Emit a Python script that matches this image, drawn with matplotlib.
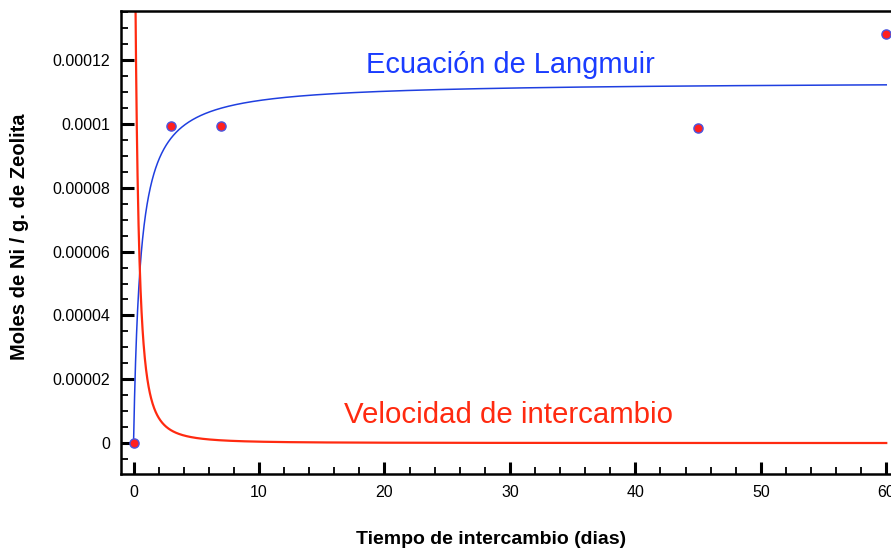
import numpy as np
import matplotlib
matplotlib.use("Agg")
import matplotlib.pyplot as plt
from matplotlib.ticker import FixedLocator, MultipleLocator

plt.rcParams['font.family'] = ['Liberation Sans', 'DejaVu Sans']

# Observed data points
dias = [0, 3, 7, 45, 60]
moles = [0.0, 0.0000993, 0.0000993, 0.0000987, 0.0001281]

# Fitted Langmuir curve parameters
q_max = 0.0001133
k_lang = 1.8
# Exchange-rate curve parameters
rate_c = 0.0002556
rate_b = 2.336

x_ticks = [0, 10, 20, 30, 40, 50, 60]
x_tick_labels = ['0', '10', '20', '30', '40', '50', '60']
y_ticks = [0, 0.00002, 0.00004, 0.00006, 0.00008, 0.0001, 0.00012]
y_tick_labels = ['0', '0.00002', '0.00004', '0.00006', '0.00008', '0.0001', '0.00012']

W, H = 891, 552
fig = plt.figure(figsize=(W / 100, H / 100), dpi=100)
left = 121 / W
bottom = 1 - 474 / H
top = 1 - 11 / H
px_per_unit = (886 - 133.3) / 60
width = 62 * px_per_unit / W
ax = fig.add_axes([left, bottom, width, top - bottom])

t = np.linspace(0, 60, 3000)
lang = q_max * k_lang * t / (1 + k_lang * t)
rate = rate_c / (1 + rate_b * t) ** 2

ax.plot(t, lang, color='#1f3fe0', lw=1.1, zorder=2)
ax.plot(t, rate, color='#ff2a10', lw=1.6, zorder=2)
ax.plot(dias, moles, 'o', ms=6.6, mfc='#ff2020', mec='#4a55e0', mew=1.0, zorder=3,
        clip_on=False)

ax.set_xlim(-1, 61)
ax.set_ylim(-0.0000097, 0.0001354)

ax.xaxis.set_major_locator(FixedLocator(x_ticks))
ax.set_xticklabels(x_tick_labels)
ax.xaxis.set_minor_locator(MultipleLocator(2))
ax.yaxis.set_major_locator(FixedLocator(y_ticks))
ax.set_yticklabels(y_tick_labels)
ax.yaxis.set_minor_locator(MultipleLocator(0.000005))

ax.tick_params(which='both', direction='in', top=False, right=False, labelsize=11.5)
ax.tick_params(which='major', length=9, width=2.2)
ax.tick_params(which='minor', length=5, width=1.3)
ax.tick_params(axis='x', pad=8)
ax.tick_params(axis='y', pad=8)

for s in ['left', 'bottom', 'top']:
    ax.spines[s].set_linewidth(1.8)
ax.spines['right'].set_visible(False)

ax.text(510 / W, 1 - 65 / H, 'Ecuación de Langmuir', transform=fig.transFigure,
        color='#1a3cff', fontsize=20.9, ha='center', va='center')
ax.text(509 / W, 1 - 415 / H, 'Velocidad de intercambio', transform=fig.transFigure,
        color='#ff2a10', fontsize=21.2, ha='center', va='center')

fig.text(491 / W, 1 - 540 / H, 'Tiempo de intercambio (dias)', fontsize=14,
         fontweight='bold', ha='center', va='center')
fig.text(20 / W, 1 - 237 / H, 'Moles de Ni / g. de Zeolita', fontsize=14.5,
         fontweight='bold', ha='center', va='center', rotation=90)

fig.savefig('out.png', dpi=100)
